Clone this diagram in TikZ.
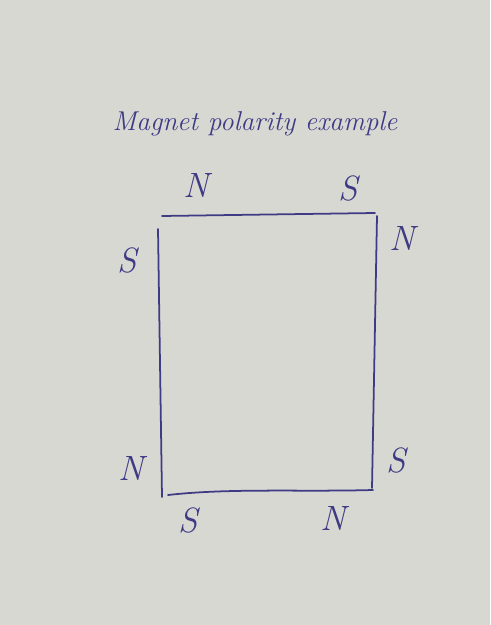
\documentclass[tikz,border=0pt]{standalone}
\usepackage{tikz}
\usepackage{xcolor}
\definecolor{paper}{RGB}{216,216,211}
\definecolor{ink}{RGB}{62,58,132}

\begin{document}
\begin{tikzpicture}[x=0.02cm,y=-0.02cm,
    pole/.style={text=ink, font=\fontsize{20}{24}\selectfont\itshape, inner sep=0pt},
    side/.style={draw=ink, line width=1pt, line cap=round}]
    \fill[paper] (0,0) rectangle (490,625);
    \useasboundingbox (0,0) rectangle (490,625);

    \node[text=ink, font=\fontsize{15.5}{18}\selectfont\itshape] (title) at (255,124) {Magnet polarity example};

    % corners of the sides
    \coordinate (t1) at (162,216); \coordinate (t2) at (375,213);
    \coordinate (r1) at (377,216); \coordinate (r2) at (372,488);
    \coordinate (b1) at (168,495); \coordinate (b2) at (373,490);
    \coordinate (l1) at (158,229); \coordinate (l2) at (162,497);

    \draw[side] (t1) -- (t2);
    \draw[side] (r1) -- (r2);
    \draw[side] (b1) .. controls (230,488) and (300,492) .. (b2);
    \draw[side] (l1) -- (l2);

    \node[pole] (topN) at (196,185) {N};
    \node[pole] (topS) at (348,188) {S};
    \node[pole] (leftS) at (127,260) {S};
    \node[pole] (leftN) at (131,468) {N};
    \node[pole] (rightN) at (402,238) {N};
    \node[pole] (rightS) at (396,460) {S};
    \node[pole] (botS) at (188,520) {S};
    \node[pole] (botN) at (333,518) {N};
\end{tikzpicture}
\end{document}
